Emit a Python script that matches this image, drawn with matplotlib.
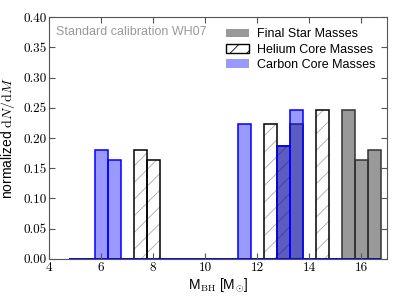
import numpy as np
import matplotlib
matplotlib.use("Agg")
import matplotlib.pyplot as plt
import matplotlib.patches as mpatches

plt.rcParams['mathtext.fontset'] = 'cm'
plt.rcParams['font.family'] = ['Liberation Sans', 'DejaVu Sans']
plt.rcParams['hatch.linewidth'] = 0.6

# bin centres and normalised heights
final_m = [13.0, 13.5, 15.5, 16.0, 16.5]
final_w = [0.186, 0.224, 0.247, 0.163, 0.180]
helium_m = [7.5, 8.0, 12.5, 13.0, 14.5]
helium_w = [0.180, 0.163, 0.224, 0.186, 0.247]
carbon_m = [6.0, 6.5, 11.5, 13.0, 13.5]
carbon_w = [0.180, 0.163, 0.224, 0.186, 0.247]

xticks = [4, 6, 8, 10, 12, 14, 16]
yticks = [0.0, 0.05, 0.10, 0.15, 0.20, 0.25, 0.30, 0.35, 0.40]

bins = np.arange(4.75, 16.76, 0.5)

fig = plt.figure(figsize=(3.99, 3.01), dpi=100)
ax = fig.add_axes([0.123, 0.14, 0.847, 0.803])

# helium: grey hatch first, black outline on top
ax.hist(helium_m, bins=bins, weights=helium_w, histtype='bar', rwidth=1,
        facecolor='white', edgecolor='#aaaaaa', hatch='//', lw=0)
ax.hist(helium_m, bins=bins, weights=helium_w, histtype='bar', rwidth=1,
        fill=False, edgecolor='black', lw=1.1)
ax.hist(final_m, bins=bins, weights=final_w, histtype='bar', rwidth=1,
        facecolor=(0, 0, 0, 0.4), edgecolor='#333333', lw=1.1)
ax.hist(carbon_m, bins=bins, weights=carbon_w, histtype='bar', rwidth=1,
        facecolor=(0, 0, 1, 0.4), edgecolor='blue', lw=1.1)

ax.set_xlim(4, 17)
ax.set_ylim(0, 0.4)
ax.set_xticks(xticks)
ax.set_yticks(yticks)
ax.set_xticklabels(['%d' % v for v in xticks], fontfamily='cmr10', fontsize=9.5)
ax.set_yticklabels(['%.2f' % v for v in yticks], fontfamily='cmr10', fontsize=9.5)
ax.tick_params(direction='in', top=True, right=True, pad=2,
               color='#555555', length=4)
for s in ax.spines.values():
    s.set_color('#555555')

ax.set_xlabel(r'M$_{\rm BH}$ [M$_{\odot}$]', fontsize=10, labelpad=2)
ax.set_ylabel(r'normalized $\mathrm{d}N/\mathrm{d}M$', fontsize=10, labelpad=4)
ax.text(0.02, 0.965, 'Standard calibration WH07', transform=ax.transAxes,
        color='#999999', fontsize=9, va='top', ha='left')

# legend proxies
h = [mpatches.Patch(facecolor=(0, 0, 0, 0.4), edgecolor='none'),
     mpatches.Patch(facecolor='white', edgecolor='black', hatch='//', lw=1),
     mpatches.Patch(facecolor=(0, 0, 1, 0.4), edgecolor='none')]
ax.legend(h, ['Final Star Masses', 'Helium Core Masses', 'Carbon Core Masses'],
          loc='upper right', frameon=False, fontsize=9, handlelength=1.8,
          handletextpad=0.7, borderaxespad=0.5, labelspacing=0.25)

fig.savefig('out.png', dpi=100)
